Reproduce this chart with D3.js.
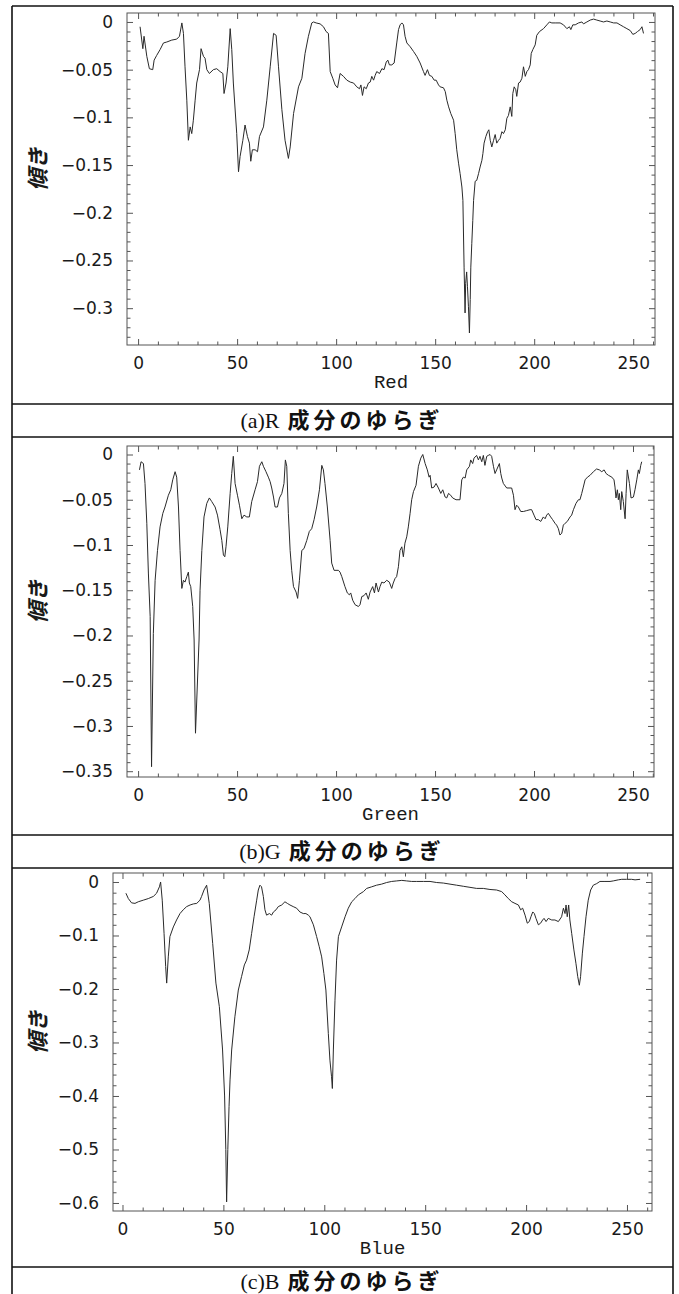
<!DOCTYPE html>
<html>
<head>
<meta charset="utf-8">
<script src="https://cdn.jsdelivr.net/npm/d3@7"></script>
<style>
  body { margin: 0; background: #fff; }
  svg { display: block; }
  .tick text { font-family: "DejaVu Sans", sans-serif; font-size: 17px; fill: #1a1a1a; }
  .tick line { stroke: #555; stroke-width: 1; }
  .axis-title { font-family: "Liberation Mono", monospace; font-size: 19px; fill: #1a1a1a; }
  .ylab { font-family: "Noto Sans CJK JP", sans-serif; font-size: 22px; font-weight: 700; font-style: italic; fill: #1a1a1a; }
  .cap-a { font-family: "Liberation Serif", serif; font-size: 22px; }
  .cap-b { font-family: "Noto Sans CJK JP", sans-serif; font-size: 22px; font-weight: 700; letter-spacing: 4px; }
</style>
</head>
<body>
<svg id="chart" width="679" height="1294"></svg>
<script>
// ---- data ----
const xTicks = [0, 50, 100, 150, 200, 250];
const redYTicks = [0, -0.05, -0.1, -0.15, -0.2, -0.25, -0.3];
const greenYTicks = [0, -0.05, -0.1, -0.15, -0.2, -0.25, -0.3, -0.35];
const blueYTicks = [0, -0.1, -0.2, -0.3, -0.4, -0.5, -0.6];

const axisNames = ["Red", "Green", "Blue"];
const captionHeads = ["(a)R", "(b)G", "(c)B"];
const captionTail = "成分のゆらぎ";
const yTitle = "傾き";

const redX = [1,2.4,3,4.4,5.7,7.4,8.1,9.4,11.1,12.8,14.5,17,19.5,20.9,22.1,22.9,23.7,24.6,25.4,26.3,
  27.1,27.9,28.8,29.6,31,31.8,33,33.8,34.7,36,38,39.7,41.4,42.8,43.4,44.4,45.3,46.5,47.3,48.1,
  49.8,50.7,51.5,52.9,54,55.2,56.2,56.9,57.7,59.1,60.3,61.3,63.3,65,66.7,68.4,69.7,70.9,72.6,74.2,
  75.9,76.8,78.5,81,82.7,84.3,86,87.7,88.6,89.9,91.9,93.6,94.9,96.1,
  97,98.3,99.5,100.7,102,103.7,105.4,107.1,108.8,110.4,111.8,112.5,113.3,114.1,115.2,116.3,117.2,118,118.9,119.7,
  120.5,121.9,123.1,124.2,125.3,126.1,126.9,128.1,129.3,130.6,131.5,132.3,133.2,134,134.8,135.7,137.4,139.1,140.7,142.4,
  144.1,144.9,146.1,147.1,148.3,149.5,150.5,151.7,152.5,154.2,155.1,155.9,156.8,157.9,159.3,160.1,160.9,161.8,162.6,163.5,
  164,164.6,165.1,165.4,165.9,166.3,166.8,167.3,167.7,168,168.5,169,169.4,170.2,171,171.9,172.7,173.6,174.1,174.7,
  175.6,176.5,177.1,177.8,178.6,179.5,180.3,181.1,182,182.8,183.7,184.5,185.4,186.2,187,187.9,188.7,189.2,189.9,190.7,
  191.2,192.1,192.9,193.8,194.6,195.5,196.3,197.1,198,198.5,199.3,200.5,201.3,202.7,204.7,206.4,207.7,208.9,210.6,213.1,
  214.8,216.5,217.8,218.5,219.5,220.7,222.4,224.1,224.9,226.6,228.3,230,231.6,233.3,235,236.7,238.4,240.1,241.8,243.4,
  245.1,246.8,248.5,249.8,251,252.2,253.5,254.4,255.2];
const redY = [-0.005,-0.028,-0.015,-0.036,-0.049,-0.050,-0.040,-0.035,-0.029,-0.022,-0.021,-0.019,-0.018,-0.015,-0.001,-0.012,-0.047,-0.082,-0.124,-0.110,
  -0.117,-0.103,-0.082,-0.064,-0.050,-0.028,-0.036,-0.038,-0.050,-0.054,-0.050,-0.049,-0.052,-0.054,-0.075,-0.064,-0.047,-0.007,-0.029,-0.064,
  -0.117,-0.157,-0.141,-0.124,-0.108,-0.120,-0.127,-0.146,-0.134,-0.134,-0.136,-0.120,-0.110,-0.082,-0.047,-0.012,-0.014,-0.047,-0.092,-0.124,
  -0.143,-0.131,-0.096,-0.068,-0.059,-0.033,-0.015,-0.001,0,-0.001,-0.002,-0.005,-0.010,-0.012,
  -0.052,-0.059,-0.066,-0.069,-0.054,-0.057,-0.061,-0.063,-0.064,-0.068,-0.070,-0.066,-0.077,-0.068,-0.070,-0.064,-0.063,-0.057,-0.061,-0.056,
  -0.052,-0.054,-0.049,-0.050,-0.042,-0.040,-0.045,-0.045,-0.043,-0.022,-0.008,-0.003,-0.001,-0.003,-0.015,-0.022,-0.026,-0.031,-0.036,-0.043,
  -0.052,-0.056,-0.050,-0.056,-0.057,-0.061,-0.061,-0.066,-0.068,-0.069,-0.073,-0.082,-0.089,-0.096,-0.103,-0.117,-0.134,-0.148,-0.159,-0.173,
  -0.187,-0.257,-0.305,-0.274,-0.262,-0.277,-0.298,-0.326,-0.291,-0.257,-0.232,-0.208,-0.187,-0.167,-0.166,-0.159,-0.152,-0.145,-0.138,-0.127,
  -0.120,-0.115,-0.113,-0.124,-0.131,-0.124,-0.118,-0.127,-0.124,-0.122,-0.115,-0.117,-0.113,-0.101,-0.098,-0.089,-0.099,-0.075,-0.068,-0.071,
  -0.078,-0.064,-0.063,-0.059,-0.047,-0.057,-0.052,-0.050,-0.045,-0.033,-0.029,-0.024,-0.014,-0.010,-0.007,-0.003,0,-0.001,-0.001,-0.001,
  -0.003,-0.007,-0.005,-0.008,-0.003,-0.003,-0.001,0,-0.002,0,0.002,0.003,0.002,0.001,0,0.001,0,-0.001,-0.001,-0.003,
  -0.005,-0.007,-0.009,-0.013,-0.012,-0.010,-0.008,-0.005,-0.012];

const greenX = [0.7,1.5,2.7,3.5,4.4,5.2,6.1,6.8,7.7,8.6,9.8,11.1,12.5,13.6,15.3,16.5,17.5,18.7,19.5,20.4,
  21.2,22.1,22.9,23.7,24.6,25.4,25.9,26.6,27.6,28.3,29,30.8,31.3,32.2,33.3,34.7,36,37.2,38.9,40.1,
  41.4,42.3,43.1,43.8,44.4,45.3,46.5,47.3,48.1,49,50.2,51.2,52.4,53.5,54.9,56.2,57.4,59.1,60.3,61.3,
  62.5,63.3,64.6,65.8,66.7,67.5,68.4,69.2,70.4,71.4,72.6,73.7,74.4,75.1,75.9,76.8,77.6,78.5,79.8,80.6,
  81.5,82.7,83.8,85.2,86.5,87.7,88.9,90.2,91.6,92.8,93.6,94.4,95.6,
  97,97.8,99,101.2,102,102.9,104.5,105.7,106.7,107.4,108.4,109.6,111.3,112.1,113,114.1,115.2,116.3,117.2,118.5,
  119.4,120.2,121.4,122.2,123.1,124.2,125.6,126.9,128.1,128.9,129.8,130.6,131.5,132.3,133.2,134,134.8,135.7,136.5,137.4,
  138.2,139.1,140.4,141.6,142.8,143.8,145,146.1,147,147.5,148.3,149.5,150.5,151.7,152.9,153.9,155.1,155.9,156.8,157.9,
  158.9,160.6,162.6,163.5,164.3,165.2,166,167.4,168,169,169.7,171,171.9,172.7,173.6,174.4,175.2,176.1,176.9,177.8,
  178.6,179.5,180.3,181.1,182.5,183.2,183.7,184.5,186.2,188.7,189.6,190.4,191.2,192.1,193.3,194.6,196.3,198,198.8,200,
  201,202.2,203.4,204.7,205.6,206.4,207.2,208.4,209.4,210.6,211.4,212.3,213.1,214,214.8,215.7,216.8,218.2,219,219.9,
  221.2,222.4,223.2,224.1,224.9,225.8,227,228.3,230,231.6,233,234.2,235.4,236.4,237.6,239.3,240.4,240.9,241.4,242.1,
  242.6,243.1,243.8,244.3,245.1,246,246.5,247.1,248.2,249,250.2,251,251.9,252.7,253.2,253.9,254.4];
const greenY = [-0.017,-0.008,-0.010,-0.032,-0.076,-0.131,-0.179,-0.345,-0.198,-0.139,-0.106,-0.080,-0.065,-0.058,-0.045,-0.039,-0.028,-0.019,-0.025,-0.058,
  -0.106,-0.148,-0.139,-0.141,-0.135,-0.130,-0.142,-0.146,-0.168,-0.205,-0.308,-0.205,-0.150,-0.106,-0.069,-0.054,-0.048,-0.052,-0.058,-0.067,
  -0.083,-0.095,-0.111,-0.113,-0.102,-0.080,-0.043,-0.021,-0.002,-0.032,-0.045,-0.056,-0.071,-0.067,-0.069,-0.069,-0.052,-0.039,-0.030,-0.013,
  -0.008,-0.013,-0.019,-0.025,-0.030,-0.037,-0.047,-0.058,-0.058,-0.048,-0.043,-0.032,-0.006,-0.013,-0.065,-0.106,-0.128,-0.146,-0.152,-0.159,
  -0.139,-0.106,-0.104,-0.095,-0.085,-0.082,-0.072,-0.058,-0.039,-0.012,-0.017,-0.032,-0.058,
  -0.095,-0.120,-0.128,-0.128,-0.130,-0.135,-0.146,-0.153,-0.155,-0.153,-0.161,-0.166,-0.168,-0.166,-0.157,-0.156,-0.153,-0.160,-0.152,-0.146,
  -0.153,-0.142,-0.152,-0.146,-0.141,-0.142,-0.139,-0.141,-0.148,-0.142,-0.137,-0.135,-0.124,-0.106,-0.102,-0.113,-0.098,-0.091,-0.080,-0.065,
  -0.050,-0.041,-0.034,-0.013,-0.004,0,-0.010,-0.017,-0.025,-0.023,-0.037,-0.036,-0.032,-0.037,-0.043,-0.039,-0.047,-0.048,-0.043,-0.045,
  -0.048,-0.050,-0.050,-0.028,-0.025,-0.026,-0.017,-0.013,-0.006,-0.010,-0.004,-0.001,-0.006,-0.002,-0.008,-0.001,-0.012,-0.002,-0.001,0,
  -0.002,-0.013,-0.021,-0.017,-0.010,-0.021,-0.026,-0.032,-0.037,-0.037,-0.045,-0.061,-0.056,-0.058,-0.063,-0.063,-0.062,-0.061,-0.061,-0.067,
  -0.072,-0.072,-0.074,-0.069,-0.071,-0.067,-0.065,-0.069,-0.072,-0.076,-0.078,-0.082,-0.089,-0.087,-0.078,-0.076,-0.074,-0.069,-0.067,-0.061,
  -0.054,-0.050,-0.050,-0.043,-0.036,-0.028,-0.025,-0.023,-0.019,-0.016,-0.017,-0.019,-0.017,-0.021,-0.023,-0.025,-0.028,-0.036,-0.048,-0.039,
  -0.050,-0.043,-0.061,-0.041,-0.052,-0.071,-0.043,-0.017,-0.032,-0.048,-0.047,-0.039,-0.028,-0.017,-0.021,-0.012,-0.008];

const blueX = [1.7,2.9,4.5,6.2,7.8,10.3,12.8,15.3,16.9,18.3,18.9,19.7,20.6,21.4,21.9,22.7,23.5,25.2,26.8,28.5,
  30.1,31.8,33.5,35.1,36.8,38.4,39.2,40.4,41.7,43,44.7,46.3,48,49.6,50.6,51.2,51.6,52.2,52.8,53.3,
  54.1,55.7,57.4,59,60.4,61.5,62.8,64,65.2,66.5,67.3,68.1,68.9,69.8,70.6,71.4,72.8,73.9,74.8,76.1,
  77.2,78.9,80.5,81.7,83,84.6,86.3,87.9,89.6,90.9,92.1,92.9,94.6,96.2,97.5,98.7,99.8,100.8,102,102.8,
  103.6,104,104.5,105.3,106.1,107,108.6,110.3,111.9,113.6,115.2,116.9,119.4,121,123.5,125.9,128.4,130.9,133.4,135.9,
  138.4,140.8,143.3,145.8,149.1,152.4,155.7,159,162.3,165.6,168.9,172.2,175.5,178.8,182.1,185.4,187.9,189.5,191.2,192.9,
  194.5,196.2,197.3,198.3,199.5,200.6,201.6,202.4,203.3,204.1,204.9,206.1,207.2,208.2,208.9,209.9,211,212.7,214.3,216,
  217.6,218.5,219.3,219.8,220.4,221.1,221.7,222.6,223.7,224.7,225.6,226.4,227,227.9,228.7,229.7,230.8,232,233.3,235,
  236.6,239.1,241.6,243.2,245.7,247.4,249.8,252.3,254,256.5];
const blueY = [-0.021,-0.031,-0.039,-0.040,-0.037,-0.034,-0.031,-0.027,-0.021,-0.009,0,-0.034,-0.096,-0.158,-0.189,-0.140,-0.102,-0.084,-0.071,-0.059,
  -0.052,-0.046,-0.043,-0.041,-0.040,-0.034,-0.027,-0.015,-0.006,-0.040,-0.115,-0.189,-0.233,-0.314,-0.400,-0.500,-0.598,-0.500,-0.420,-0.370,
  -0.314,-0.252,-0.202,-0.177,-0.155,-0.146,-0.127,-0.096,-0.065,-0.034,-0.015,-0.006,-0.009,-0.027,-0.052,-0.062,-0.059,-0.062,-0.056,-0.052,
  -0.046,-0.043,-0.037,-0.040,-0.043,-0.046,-0.049,-0.056,-0.059,-0.059,-0.062,-0.065,-0.080,-0.102,-0.121,-0.140,-0.171,-0.202,-0.283,-0.333,
  -0.364,-0.386,-0.314,-0.221,-0.146,-0.102,-0.084,-0.065,-0.049,-0.037,-0.031,-0.024,-0.018,-0.012,-0.009,-0.006,-0.004,-0.001,0.001,0.002,
  0.003,0.002,0.001,0.001,0.001,0.001,-0.001,-0.002,-0.004,-0.006,-0.008,-0.010,-0.012,-0.012,-0.014,-0.015,-0.018,-0.024,-0.031,-0.037,
  -0.040,-0.043,-0.052,-0.049,-0.062,-0.077,-0.074,-0.065,-0.056,-0.059,-0.068,-0.080,-0.077,-0.071,-0.068,-0.074,-0.068,-0.071,-0.071,-0.074,
  -0.065,-0.049,-0.059,-0.043,-0.065,-0.043,-0.071,-0.096,-0.127,-0.152,-0.177,-0.193,-0.177,-0.133,-0.102,-0.065,-0.034,-0.015,-0.006,-0.003,
  0.001,0.001,0.001,0.002,0.004,0.005,0.005,0.005,0.004,0.005];

// ---- layout ----
const W = 679, H = 1294;
const border = { l: 12, r: 673, t: 6 };
const rowLines = [404, 437, 835, 868, 1267];
const captionMid = [420, 851, 1281];

const panels = [
  { xs: redX, ys: redY, yTicks: redYTicks, yMinorStep: 0.01, xDomain: [-5.6, 261], yDomain: [-0.3386, 0.0094],
    l: 127, r: 655, t: 13, b: 345 },
  { xs: greenX, ys: greenY, yTicks: greenYTicks, yMinorStep: 0.01, xDomain: [-5.6, 260.6], yDomain: [-0.3564, 0.0094],
    l: 127, r: 654, t: 446, b: 777 },
  { xs: blueX, ys: blueY, yTicks: blueYTicks, yMinorStep: 0.02, xDomain: [-4.7, 262.4], yDomain: [-0.615, 0.0168],
    l: 113, r: 652, t: 873, b: 1211 }
];

const svg = d3.select('#chart');
svg.append('rect').attr('width', W).attr('height', H).attr('fill', '#fff');

const fmtY = d => d === 0 ? '0' : '\u2212' + String(+(-d).toFixed(2));

function minorTicks(domain, step, majors) {
  const lo = Math.ceil(domain[0] / step), hi = Math.floor(domain[1] / step);
  return d3.range(lo, hi + 1).map(i => +(i * step).toFixed(4))
    .filter(v => !majors.some(m => Math.abs(m - v) < step / 10));
}

function drawPanel(p, i) {
  const x = d3.scaleLinear().domain(p.xDomain).range([p.l, p.r]);
  const y = d3.scaleLinear().domain(p.yDomain).range([p.b, p.t]);
  const g = svg.append('g');

  const xMinor = minorTicks(p.xDomain, 10, xTicks);
  const yMinor = minorTicks(p.yDomain, p.yMinorStep, p.yTicks);

  const sides = [
    { ax: d3.axisBottom, s: x, tr: `translate(0,${p.b})`, major: xTicks, minor: xMinor, labels: true },
    { ax: d3.axisTop, s: x, tr: `translate(0,${p.t})`, major: xTicks, minor: xMinor, labels: false },
    { ax: d3.axisLeft, s: y, tr: `translate(${p.l},0)`, major: p.yTicks, minor: yMinor, labels: true },
    { ax: d3.axisRight, s: y, tr: `translate(${p.r},0)`, major: p.yTicks, minor: yMinor, labels: false }
  ];

  sides.forEach(sd => {
    const isX = sd.s === x;
    const fmt = sd.labels ? (isX ? d3.format('d') : fmtY) : () => '';
    g.append('g').attr('transform', sd.tr)
      .call(sd.ax(sd.s).tickValues(sd.major).tickSize(-6).tickPadding(isX ? 12 : 14).tickFormat(fmt))
      .call(a => a.select('.domain').remove());
    g.append('g').attr('transform', sd.tr)
      .call(sd.ax(sd.s).tickValues(sd.minor).tickSize(-3.5).tickFormat(() => ''))
      .call(a => a.select('.domain').remove());
  });

  g.append('rect')
    .attr('x', p.l).attr('y', p.t)
    .attr('width', p.r - p.l).attr('height', p.b - p.t)
    .attr('fill', 'none').attr('stroke', '#555').attr('stroke-width', 1);

  const line = d3.line().x(d => x(d[0])).y(d => y(d[1]));
  g.append('path')
    .datum(d3.zip(p.xs, p.ys))
    .attr('d', line)
    .attr('fill', 'none')
    .attr('stroke', '#2a2a2a')
    .attr('stroke-width', 1)
    .attr('stroke-linejoin', 'round');

  // axis titles
  g.append('text').attr('class', 'axis-title')
    .attr('x', (p.l + p.r) / 2).attr('y', p.b + 43)
    .attr('text-anchor', 'middle')
    .text(axisNames[i]);

  const cy = (p.t + p.b) / 2 - 10;
  g.append('text').attr('class', 'ylab')
    .attr('transform', `translate(46,${cy}) rotate(-90)`)
    .attr('text-anchor', 'middle')
    .text(yTitle);

  // caption row
  const cap = svg.append('text')
    .attr('x', 342).attr('y', captionMid[i] + 8)
    .attr('text-anchor', 'middle').attr('fill', '#111');
  cap.append('tspan').attr('class', 'cap-a').text(captionHeads[i]);
  cap.append('tspan').attr('class', 'cap-b').attr('dx', 8).text(captionTail);
}

panels.forEach(drawPanel);

// outer table lines
const frame = svg.append('g').attr('stroke', '#111').attr('stroke-width', 1.6);
frame.append('line').attr('x1', border.l).attr('x2', border.r).attr('y1', border.t).attr('y2', border.t);
frame.append('line').attr('x1', border.l).attr('x2', border.l).attr('y1', border.t).attr('y2', H);
frame.append('line').attr('x1', border.r).attr('x2', border.r).attr('y1', border.t).attr('y2', H);
rowLines.forEach(yy => {
  frame.append('line').attr('x1', border.l).attr('x2', border.r).attr('y1', yy).attr('y2', yy);
});
</script>
</body>
</html>
